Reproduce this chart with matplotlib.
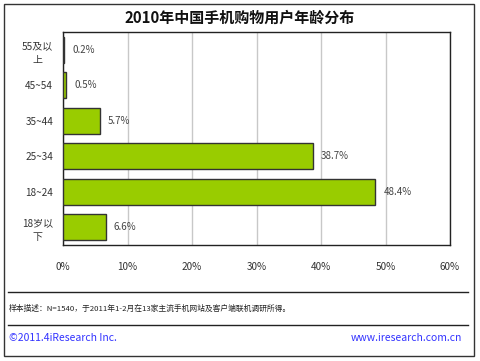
import matplotlib.pyplot as plt
from matplotlib.patches import Rectangle
from matplotlib.lines import Line2D

plt.rcParams['font.family'] = ['Noto Sans CJK SC', 'DejaVu Sans']

categories = ['55及以\n上', '45~54', '35~44', '25~34', '18~24', '18岁以\n下']
values = [0.2, 0.5, 5.7, 38.7, 48.4, 6.6]
xticks = [0, 10, 20, 30, 40, 50, 60]

fig = plt.figure(figsize=(4.8, 3.61), dpi=100)
ax = fig.add_axes([63 / 480, 1 - 245 / 361, 387 / 480, 213 / 361])

y = list(range(len(categories)))[::-1]
ax.barh(y, values, height=0.73, color='#99CC00', edgecolor='#333333', linewidth=1, zorder=3)
for yi, v in zip(y, values):
    ax.annotate(f'{v}%', (v, yi), xytext=(6, 0), textcoords='offset points',
                va='center', ha='left', fontsize=7, color='#444444')

ax.set_xlim(0, 60)
ax.set_ylim(-0.5, 5.5)
ax.set_xticks(xticks)
ax.set_xticklabels([f'{t}%' for t in xticks], fontsize=7.2, color='#333333')
ax.set_yticks(y)
ax.set_yticklabels(categories, fontsize=7.2, color='#333333', linespacing=1.5,
                   multialignment='center')
ax.tick_params(axis='x', length=0, pad=12)
ax.tick_params(axis='y', length=0, pad=7)
ax.grid(axis='x', color='#c8c8c8', linewidth=1, zorder=0)
for s in ax.spines.values():
    s.set_color('#222222')
    s.set_linewidth(1)

fig.text(0.5, 1 - 18 / 361, '2010年中国手机购物用户年龄分布', ha='center', va='center',
         fontsize=10.8, fontweight='bold', color='#111111')

fig.patches.append(Rectangle((4 / 480, 1 - 356 / 361), 470 / 480, 352 / 361,
                             transform=fig.transFigure, fill=False, edgecolor='#333333', linewidth=1))
for yy in (292, 325):
    fig.lines.append(Line2D([8 / 480, 468 / 480], [1 - yy / 361] * 2,
                            transform=fig.transFigure, color='#222222', linewidth=1))

fig.text(9 / 480, 1 - 309 / 361, '样本描述：N=1540，于2011年1-2月在13家主流手机网站及客户端联机调研所得。',
         ha='left', va='center', fontsize=5.6, color='#222222')
fig.text(9 / 480, 1 - 338 / 361, '©2011.4iResearch Inc.', ha='left', va='center',
         fontsize=7.5, color='#3333ff')
fig.text(462 / 480, 1 - 338 / 361, 'www.iresearch.com.cn', ha='right', va='center',
         fontsize=7.5, color='#3333ff')

fig.savefig('out.png', dpi=100)
